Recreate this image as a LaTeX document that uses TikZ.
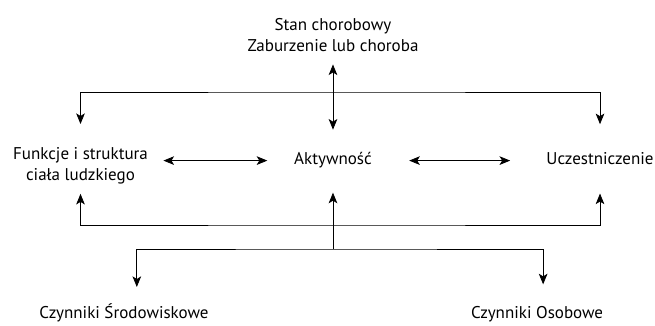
\documentclass[tikz,border=0pt]{standalone}
\usepackage{fontspec}
\setmainfont{PT Sans}
\usetikzlibrary{arrows.meta}

\begin{document}
\begin{tikzpicture}[>={Stealth[length=8pt,width=6.5pt,inset=2pt]},line width=0.6pt,
		lbl/.style={inner sep=0pt,align=center,font=\fontsize{12.8pt}{15.75pt}\selectfont}]
		\useasboundingbox (0,0) rectangle (17.33,8.625);
		\node[lbl] (stan) at (8.81,7.69) {Stan chorobowy\\Zaburzenie lub choroba};
		\node[lbl,anchor=base] (akt) at (8.81,4.26) {Aktywność};
		\node[lbl] (funk) at (2.13,4.25) {Funkcje i struktura\\ciała ludzkiego};
		\node[lbl,anchor=base] (ucz) at (15.875,4.26) {Uczestniczenie};
		\node[lbl,anchor=base] (srod) at (3.28,0.21) {Czynniki Środowiskowe};
		\node[lbl,anchor=base] (osob) at (14.21,0.21) {Czynniki Osobowe};
		\coordinate (top) at (8.81,6.191);
		\coordinate (bot) at (8.81,2.672);
		\coordinate (split) at (8.81,2.037);
		\draw[<->,shorten <=0.32cm,shorten >=0.6cm] (stan) -- (akt);
		\draw[<->,shorten <=0.6cm,shorten >=0.75cm] (funk) |- (top) -| (ucz);
		\draw[<->,shorten <=0.26cm,shorten >=0.74cm] (funk) |- (bot) -| (ucz);
		\draw[->,shorten >=0.63cm] (split) -- (akt);
		\draw[<->,shorten <=0.42cm,shorten >=0.56cm] ([xshift=0.34cm]srod.north) |- (split) -| ([xshift=0.16cm]osob.north);
		\draw[<->,shorten <=0.4cm,shorten >=0.7cm] (akt -| funk.east) -- (akt.west);
		\draw[<->,shorten <=0.98cm,shorten >=0.95cm] (akt.east) -- (akt -| ucz.west);
	\end{tikzpicture}
\end{document}
